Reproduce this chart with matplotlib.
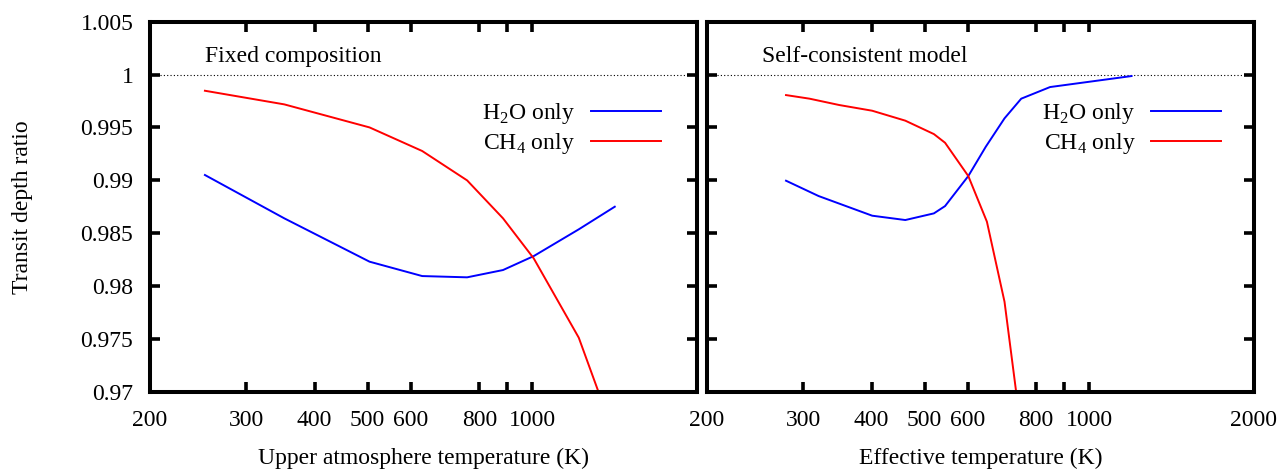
import numpy as np
import matplotlib.pyplot as plt

plt.rcParams['font.family'] = ['Liberation Serif', 'DejaVu Serif']
plt.rcParams['mathtext.fontset'] = 'custom'
plt.rcParams['mathtext.rm'] = 'Liberation Serif'
plt.rcParams['font.size'] = 17

# Fixed composition panel
t_fixed = [252, 352, 504, 629, 760, 884, 1006, 1216, 1380]
ch4_fixed = [0.99847, 0.99718, 0.99500, 0.99277, 0.98999, 0.98640, 0.98261, 0.97511, 0.9673]
t_fixed_h2o = [252, 352, 504, 629, 760, 884, 1006, 1216, 1415]
h2o_fixed = [0.99050, 0.98640, 0.98230, 0.98094, 0.98082, 0.98151, 0.98283, 0.98536, 0.98750]

# Self-consistent panel
t_sc_ch4 = [279, 308, 349, 401, 461, 520, 545, 601, 650, 700, 750]
ch4_sc = [0.99806, 0.99772, 0.99712, 0.99658, 0.99564, 0.99437, 0.99355, 0.99040, 0.98608, 0.97851, 0.9665]
t_sc_h2o = [279, 320, 401, 461, 520, 545, 601, 647, 700, 751, 848, 1195]
h2o_sc = [0.98996, 0.98851, 0.98665, 0.98624, 0.98687, 0.98756, 0.99040, 0.99318, 0.99586, 0.99772, 0.99882, 0.99986]

xticks = [200, 300, 400, 500, 600, 800, 900, 1000, 2000]
xlabels_left = ['200', '300', '400', '500', '600', '800', '', '1000', '']
xlabels_right = ['200', '300', '400', '500', '600', '800', '', '1000', '2000']
yticks = [0.97, 0.975, 0.98, 0.985, 0.99, 0.995, 1.0, 1.005]
ylabels = ['0.97', '0.975', '0.98', '0.985', '0.99', '0.995', '1', '1.005']

fig = plt.figure(figsize=(12.8, 4.69), dpi=100)
ax1 = fig.add_axes([0.1172, 0.1648, 0.4273, 0.7889])
ax2 = fig.add_axes([0.5523, 0.1648, 0.4273, 0.7889])

panels = [
    (ax1, t_fixed_h2o, h2o_fixed, t_fixed, ch4_fixed, xlabels_left,
     'Upper atmosphere temperature (K)', 'Fixed composition', 0.934),
    (ax2, t_sc_h2o, h2o_sc, t_sc_ch4, ch4_sc, xlabels_right,
     'Effective temperature (K)', 'Self-consistent model', 0.940),
]

for ax, th, h, tc, c, xl, xlab, title, legx in panels:
    ax.axhline(1.0, color='k', lw=0.8, ls=(0, (1, 2)), zorder=1)
    ax.plot(th, h, color='#0000ff', lw=1.4, label='H$_2$O only')
    ax.plot(tc, c, color='#ff0000', lw=1.4, label='CH$_4$ only')
    ax.set_xscale('log')
    ax.set_xlim(200, 2000)
    ax.set_ylim(0.97, 1.005)
    ax.set_xticks(xticks)
    ax.set_xticklabels(xl)
    ax.minorticks_off()
    ax.set_yticks(yticks)
    ax.tick_params(direction='in', top=True, right=True, length=7.5, width=2.6)
    ax.tick_params(axis='x', pad=13)
    ax.tick_params(axis='y', pad=12)
    for s in ax.spines.values():
        s.set_linewidth(2.9)
    ax.set_xlabel(xlab, labelpad=12)
    ax.text(0.1, 0.905, title, transform=ax.transAxes, ha='left', va='center')
    ax.legend(loc='upper right', bbox_to_anchor=(legx, 0.785), frameon=False,
              markerfirst=False, handlelength=2.95, handletextpad=0.68,
              labelspacing=0.2, borderaxespad=0, borderpad=0)

ax1.set_yticklabels(ylabels)
ax2.set_yticklabels([])
ax1.set_ylabel('Transit depth ratio', labelpad=34)

fig.savefig('out.png', dpi=100)
